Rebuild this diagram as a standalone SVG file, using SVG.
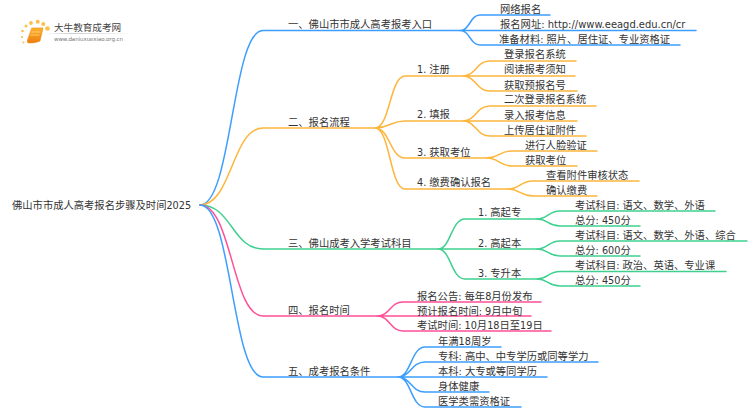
<svg xmlns="http://www.w3.org/2000/svg" width="750" height="410" viewBox="0 0 750 410">
<defs>
<linearGradient id="bk" x1="0" y1="0" x2="0" y2="1"><stop offset="0" stop-color="#fdb32b"/><stop offset="1" stop-color="#ee7d10"/></linearGradient>
<linearGradient id="rule" x1="0" y1="0" x2="1" y2="0"><stop offset="0" stop-color="#ccc" stop-opacity="0"/><stop offset=".3" stop-color="#ccc"/><stop offset="1" stop-color="#ccc" stop-opacity="0"/></linearGradient>
</defs>
<style>
text{font-family:"DejaVu Sans","Noto Sans CJK SC",sans-serif;font-size:10.3px;fill:#333}
.l{font-size:9.7px}
.u{font-size:9.95px}
path{fill:none;stroke-width:1.5;stroke-linecap:round}
.b{stroke:#3d9eff}.o{stroke:#fdb53c}.g{stroke:#3fd08f}.p{stroke:#ff4f96}
.dot{fill:#fbc04a}
</style>
<rect width="750" height="410" fill="#fff"/>
<g id="logo">
<circle class="dot" cx="47.500" cy="28.500" r="2.300"/><circle class="dot" cx="43.300" cy="24" r="2"/><circle class="dot" cx="37.700" cy="21.800" r="2"/><circle class="dot" cx="31" cy="23" r="1.900"/><circle class="dot" cx="26" cy="26" r="1.500"/><circle class="dot" cx="22.500" cy="31" r="1.300"/><circle class="dot" cx="22" cy="37" r="1.100"/><circle class="dot" cx="23.500" cy="42.500" r="1"/>
<path d="M32 28H43L40 41Q36 43 29 43Q26.500 43 27.500 40Z" style="fill:url(#bk);stroke:#ea8a16;stroke-width:.6"/>
<path d="M32 32H40M31 35H39" style="stroke:#ffd98a;stroke-width:.8"/>
<text x="54" y="31" style="font-size:9.6px;fill:#444">大牛教育成考网</text>
<rect x="45" y="33" width="88" height="1" fill="url(#rule)"/>
<text x="54" y="41" textLength="69" style="font-size:5.5px;fill:#777">www.daniuxuexiao.org.cn</text>
</g>
<g id="connectors">
<path class="b" d="M200 205C232 205 232 30.500 263 30.500H460"/>
<path class="o" d="M200 205C232 205 232 128 263 128H375"/>
<path class="g" d="M200 205C232 205 232 249 263 249H438"/>
<path class="p" d="M200 205C232 205 232 316 263 316H377"/>
<path class="b" d="M200 205C232 205 232 377 263 377H398"/>
<path class="b" d="M460 30.500C470 30.500 470 15 480 15H550M460 30.500H696M460 30.500C470 30.500 470 45 480 45H680"/>
<path class="o" d="M375 128C390 128 390 76 405 76H463M375 128C390 128 390 121 405 121H463M375 128C390 128 390 158 405 158H487M375 128C390 128 390 189 405 189H508"/>
<path class="o" d="M463 76C476 76 476 61 490 61H576M463 76H575M463 76C476 76 476 91 490 91H577"/>
<path class="o" d="M463 121C476 121 476 106 490 106H596M463 121H577M463 121C476 121 476 136 490 136H586"/>
<path class="o" d="M487 158C499 158 499 151 512 151H597M487 158C499 158 499 166 512 166H577"/>
<path class="o" d="M508 189C520 189 520 181 533 181H639M508 189C520 189 520 196 533 196H597"/>
<path class="g" d="M438 249C451 249 451 219 465 219H537M438 249H537M438 249C451 249 451 279 465 279H537"/>
<path class="g" d="M537 219C548 219 548 211 560 211H715M537 219C548 219 548 226 560 226H640"/>
<path class="g" d="M537 249C548 249 548 241 560 241H747M537 249C548 249 548 256 560 256H640"/>
<path class="g" d="M537 279C548 279 548 271.500 560 271.500H726M537 279C548 279 548 286 560 286H640"/>
<path class="p" d="M377 316C390 316 390 302 403 302H541M377 316H531M377 316C390 316 390 331 403 331H551"/>
<path class="b" d="M398 377C411 377 411 347 425 347H501M398 377C411 377 411 362 425 362H598M398 377H547M398 377C411 377 411 392 425 392H489M398 377C411 377 411 407 425 407H521"/>
</g>
<g id="root"><text x="12" y="209">佛山市市成人高考报名步骤及时间<tspan class="l">2025</tspan></text></g>
<g id="n1"><text x="288" y="28">一、佛山市市成人高考报考入口</text></g>
<g id="n1a"><text x="500" y="13">网络报名</text></g>
<g id="n1b"><text x="500" y="28">报名网址<tspan class="u">: http://www.eeagd.edu.cn/cr</tspan></text></g>
<g id="n1c"><text x="499" y="43">准备材料<tspan class="l">: </tspan>照片、居住证、专业资格证</text></g>
<g id="n2"><text x="288" y="126">二、报名流程</text></g>
<g id="n21"><text x="417" y="73"><tspan class="l">1. </tspan>注册</text></g>
<g id="n211"><text x="504" y="58">登录报名系统</text></g>
<g id="n212"><text x="504" y="73">阅读报考须知</text></g>
<g id="n213"><text x="504" y="89">获取预报名号</text></g>
<g id="n22"><text x="417" y="118"><tspan class="l">2. </tspan>填报</text></g>
<g id="n221"><text x="504" y="103">二次登录报名系统</text></g>
<g id="n222"><text x="504" y="119">录入报考信息</text></g>
<g id="n223"><text x="504" y="134">上传居住证附件</text></g>
<g id="n23"><text x="417" y="156"><tspan class="l">3. </tspan>获取考位</text></g>
<g id="n231"><text x="525" y="149">进行人脸验证</text></g>
<g id="n232"><text x="525" y="164">获取考位</text></g>
<g id="n24"><text x="417" y="186"><tspan class="l">4. </tspan>缴费确认报名</text></g>
<g id="n241"><text x="546" y="179">查看附件审核状态</text></g>
<g id="n242"><text x="546" y="194">确认缴费</text></g>
<g id="n3"><text x="288" y="247">三、佛山成考入学考试科目</text></g>
<g id="n31"><text x="478" y="216"><tspan class="l">1. </tspan>高起专</text></g>
<g id="n311"><text x="575" y="209">考试科目<tspan class="l">: </tspan>语文、数学、外语</text></g>
<g id="n312"><text x="575" y="224">总分<tspan class="l">: 450</tspan>分</text></g>
<g id="n32"><text x="478" y="247"><tspan class="l">2. </tspan>高起本</text></g>
<g id="n321"><text x="575" y="239">考试科目<tspan class="l">: </tspan>语文、数学、外语、综合</text></g>
<g id="n322"><text x="575" y="254">总分<tspan class="l">: 600</tspan>分</text></g>
<g id="n33"><text x="478" y="277"><tspan class="l">3. </tspan>专升本</text></g>
<g id="n331"><text x="575" y="269">考试科目<tspan class="l">: </tspan>政治、英语、专业课</text></g>
<g id="n332"><text x="575" y="284">总分<tspan class="l">: 450</tspan>分</text></g>
<g id="n4"><text x="288" y="314">四、报名时间</text></g>
<g id="n41"><text x="417" y="300">报名公告<tspan class="l">: </tspan>每年<tspan class="l">8</tspan>月份发布</text></g>
<g id="n42"><text x="417" y="315">预计报名时间<tspan class="l">: 9</tspan>月中旬</text></g>
<g id="n43"><text x="417" y="329">考试时间<tspan class="l">: 10</tspan>月<tspan class="l">18</tspan>日至<tspan class="l">19</tspan>日</text></g>
<g id="n5"><text x="288" y="375">五、成考报名条件</text></g>
<g id="n51"><text x="438" y="345">年满<tspan class="l">18</tspan>周岁</text></g>
<g id="n52"><text x="438" y="360">专科<tspan class="l">: </tspan>高中、中专学历或同等学力</text></g>
<g id="n53"><text x="438" y="375">本科<tspan class="l">: </tspan>大专或等同学历</text></g>
<g id="n54"><text x="438" y="390">身体健康</text></g>
<g id="n55"><text x="438" y="405">医学类需资格证</text></g>
</svg>
